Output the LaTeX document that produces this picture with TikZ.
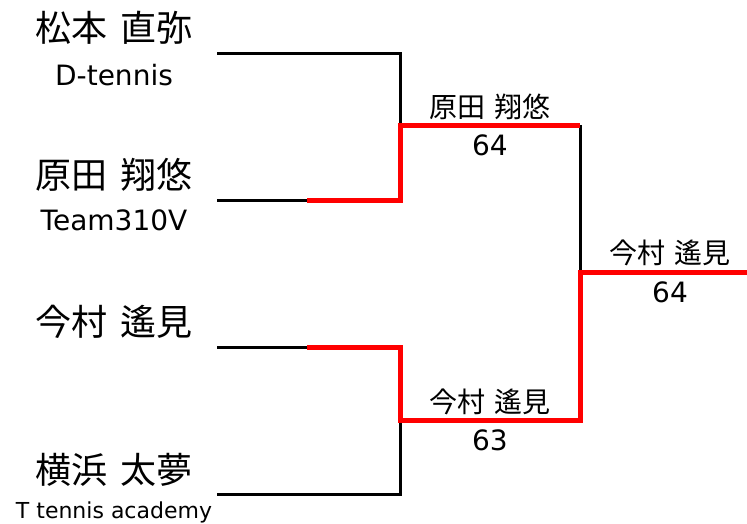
\documentclass[tikz,border=0pt]{standalone}
\usepackage{fontspec}
\setmainfont{Noto Sans CJK JP}
\newfontfamily\latinfont{DejaVu Sans}
\newcommand{\namegap}{\hspace{.34em}}

\begin{document}
\begin{tikzpicture}
	[x=1pt, y=-1pt,
	line/.style ={black, line width=3pt},
	win/.style ={red, line width=5pt},
	player/.style ={inner sep=0pt, font=\fontsize{36}{36}\selectfont},
	team/.style ={inner sep=0pt, font=\latinfont\fontsize{28}{28}\selectfont},
	result/.style ={inner sep=0pt, font=\fontsize{28}{28}\selectfont},
	score/.style ={inner sep=0pt, font=\latinfont\fontsize{28}{28}\selectfont}]
	\useasboundingbox (0,0) rectangle (747,523);
	% players
	\node[player] (n1) at (114,28) {松本\namegap 直弥};
	\node[team] (t1) at (114,75) {D-tennis};
	\node[player] (n2) at (114,175) {原田\namegap 翔悠};
	\node[team] (t2) at (114,220) {Team310V};
	\node[player] (n3) at (114,322) {今村\namegap 遙見};
	\node[player] (n4) at (114,470) {横浜\namegap 太夢};
	\node[team, font=\latinfont\fontsize{22}{22}\selectfont] (t4) at (114,512) {T tennis academy};
	% bracket points
	\coordinate (p1) at (217,53);
	\coordinate (p2) at (217,200);
	\coordinate (p3) at (217,347);
	\coordinate (p4) at (217,494);
	\coordinate (m2) at (307,200);
	\coordinate (m3) at (307,347);
	\coordinate (s1) at (400,125);
	\coordinate (s2) at (400,420);
	\coordinate (r1) at (580,125);
	\coordinate (r2) at (580,420);
	\coordinate (f) at (580,272);
	\coordinate (e) at (747,272);
	% lines
	\draw[line] (p1) -| (s1);
	\draw[line] (p2) -- (m2);
	\draw[line] (p3) -- (m3);
	\draw[line] (p4) -| (s2);
	\draw[line] (r1) -- (f);
	\draw[win] (m2) -| (s1) -- (r1);
	\draw[win] (m3) -| (s2) -- (r2) -- (f) -- (e);
	% results
	\node[result] (w1) at (490,107) {原田\namegap 翔悠};
	\node[score] (c1) at (490,145) {64};
	\node[result] (w2) at (490,402) {今村\namegap 遙見};
	\node[score] (c2) at (490,440) {63};
	\node[result] (w3) at (670,253) {今村\namegap 遙見};
	\node[score] (c3) at (670,292) {64};
\end{tikzpicture}
\end{document}
